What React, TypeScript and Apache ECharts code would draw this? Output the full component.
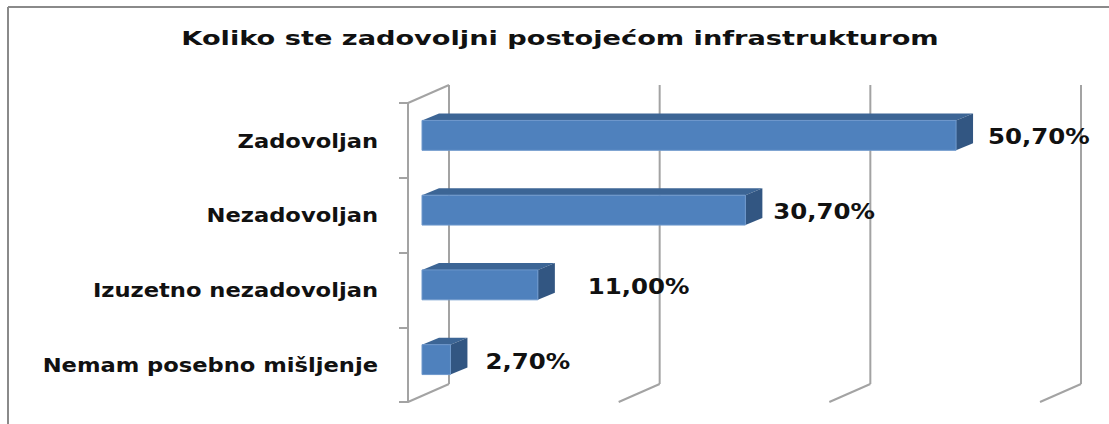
import React, { useEffect, useRef } from "react";
import * as echarts from "echarts";

const titleText = "Koliko ste zadovoljni postojećom infrastrukturom";
const categories = [
  "Zadovoljan",
  "Nezadovoljan",
  "Izuzetno nezadovoljan",
  "Nemam posebno mišljenje",
];
const values = [50.7, 30.7, 11.0, 2.7];
const gridTicks = [0, 20, 40, 60];
const labelGaps = [15, 11, 33, 18];

const WALL_DX = 41;
const WALL_DY = -18;
const BAR_OFF_X = 14;
const BAR_OFF_Y = -5;
const BAR_DX = 17;
const BAR_DY = -7;
const LINE_COLOR = "#a3a3a3";
const FONT = "DejaVu Sans";

const fmt = (v: number) => v.toFixed(2).replace(".", ",") + "%";

function textEl(x: number, y: number, text: string, size: number, scaleX: number, align: string) {
  return {
    type: "text",
    x,
    y,
    scaleX,
    style: {
      text,
      font: `bold ${size}px "${FONT}"`,
      fill: "#111",
      align,
      textAlign: align,
      verticalAlign: "middle",
      textVerticalAlign: "middle",
    },
  };
}

export default function App() {
  const ref = useRef<HTMLDivElement>(null);
  useEffect(() => {
    if (!ref.current) return;
    const chart = echarts.init(ref.current, undefined, { renderer: "svg" });
    const option: any = {
      animation: false,
      backgroundColor: "#ffffff",
      graphic: [
        {
          type: "line",
          shape: { x1: 8, y1: 7, x2: 1109, y2: 7 },
          style: { stroke: "#8a8a8a", lineWidth: 2 },
        },
        {
          type: "line",
          shape: { x1: 8, y1: 7, x2: 8, y2: 424 },
          style: { stroke: "#8a8a8a", lineWidth: 2 },
        },
        textEl(560, 38, titleText, 20, 1.36, "center"),
      ],
      grid: { left: 408, top: 103, width: 632, height: 299 },
      xAxis: {
        type: "value",
        min: 0,
        max: 60,
        interval: 20,
        show: false,
      },
      yAxis: {
        type: "category",
        data: categories,
        inverse: true,
        axisLine: { show: true, lineStyle: { color: LINE_COLOR, width: 2 } },
        axisTick: { show: true, length: 9, lineStyle: { color: LINE_COLOR, width: 2 } },
        axisLabel: { show: false },
        splitLine: { show: false },
      },
      series: [
        {
          type: "custom",
          clip: false,
          silent: true,
          data: gridTicks.map((t) => [t, 0]),
          encode: { x: 0, y: 1 },
          renderItem: (params: any, api: any) => {
            const cs = params.coordSys;
            const top = cs.y;
            const bottom = cs.y + cs.height;
            const x = api.coord([api.value(0), 0])[0];
            const st = { stroke: LINE_COLOR, lineWidth: 2 };
            const children: any[] = [
              {
                type: "line",
                shape: { x1: x + WALL_DX, y1: top + WALL_DY, x2: x + WALL_DX, y2: bottom + WALL_DY },
                style: st,
              },
              {
                type: "line",
                shape: { x1: x, y1: bottom, x2: x + WALL_DX, y2: bottom + WALL_DY },
                style: st,
              },
            ];
            if (params.dataIndex === 0) {
              children.push({
                type: "line",
                shape: { x1: x, y1: top, x2: x + WALL_DX, y2: top + WALL_DY },
                style: st,
              });
            }
            return { type: "group", children };
          },
        },
        {
          type: "custom",
          clip: false,
          data: values.map((v, i) => [v, i]),
          encode: { x: 0, y: 1 },
          renderItem: (params: any, api: any) => {
            const i = params.dataIndex;
            const v = api.value(0);
            const p0 = api.coord([0, i]);
            const p1 = api.coord([v, i]);
            const band = api.size([0, 1])[1];
            const h = band * 0.4;
            const yc = p0[1] + BAR_OFF_Y;
            const x0 = p0[0] + BAR_OFF_X;
            const x1 = p1[0] + BAR_OFF_X;
            const yT = yc - h / 2;
            const yB = yc + h / 2;
            return {
              type: "group",
              children: [
                {
                  type: "polygon",
                  shape: {
                    points: [
                      [x0, yT],
                      [x1, yT],
                      [x1 + BAR_DX, yT + BAR_DY],
                      [x0 + BAR_DX, yT + BAR_DY],
                    ],
                  },
                  style: { fill: "#3c6595" },
                },
                {
                  type: "polygon",
                  shape: {
                    points: [
                      [x1, yT],
                      [x1 + BAR_DX, yT + BAR_DY],
                      [x1 + BAR_DX, yB + BAR_DY],
                      [x1, yB],
                    ],
                  },
                  style: { fill: "#325682" },
                },
                {
                  type: "rect",
                  shape: { x: x0, y: yT, width: x1 - x0, height: h },
                  style: { fill: "#4f81bd", stroke: "#6e98cc", lineWidth: 1 },
                },
                textEl(x1 + BAR_DX + labelGaps[i], yc + 1, fmt(v), 22, 1.11, "left"),
                textEl(p0[0] - 30, p0[1] + 1, categories[i], 19, 1.19, "right"),
              ],
            };
          },
        },
      ],
    };
    chart.setOption(option);
    return () => chart.dispose();
  }, []);
  return (
    <div
      ref={ref}
      style={{ position: "absolute", left: 0, top: 0, width: 1109, height: 424 }}
    />
  );
}
